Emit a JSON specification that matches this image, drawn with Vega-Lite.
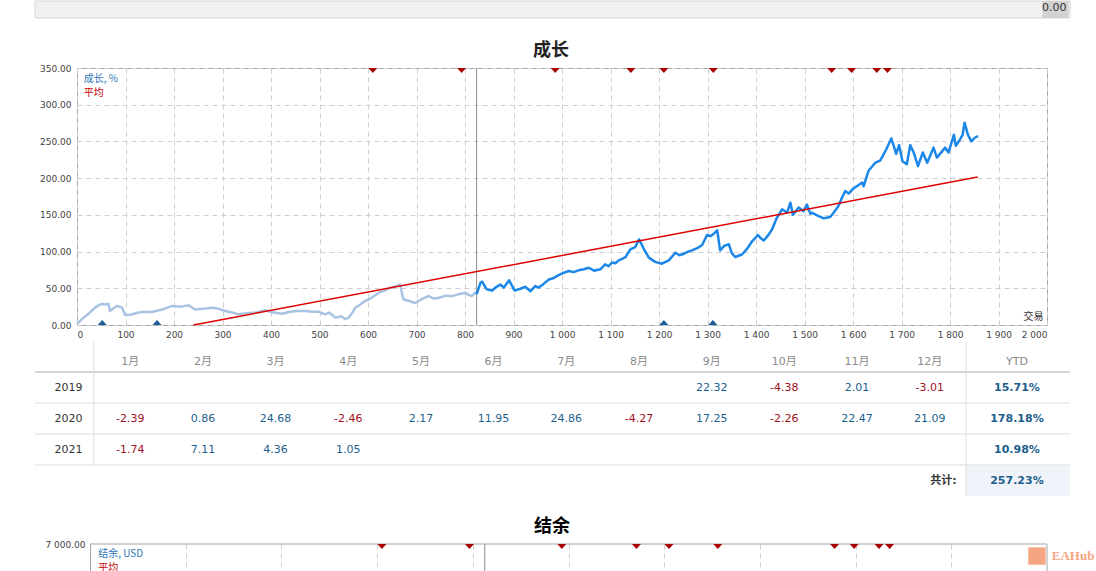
{
  "$schema": "https://vega.github.io/schema/vega-lite/v6.json",
  "padding": {"left": 33, "top": 0, "right": 0, "bottom": 0},
  "bounds": "flush",
  "spacing": 16,
  "datasets": {
    "trades": [
      {"t": 610, "k": "out"}, {"t": 793, "k": "out"}, {"t": 986, "k": "out"}, {"t": 1142, "k": "out"},
      {"t": 1210, "k": "out"}, {"t": 1312, "k": "out"}, {"t": 1556, "k": "out"}, {"t": 1597, "k": "out"},
      {"t": 1649, "k": "out"}, {"t": 1671, "k": "out"},
      {"t": 52, "k": "in"}, {"t": 165, "k": "in"}, {"t": 1210, "k": "in"}, {"t": 1311, "k": "in"}
    ],
    "bodyrows": [{"row": "hdr"}, {"row": "2019"}, {"row": "2020"}, {"row": "2021"}]
  },
  "vconcat": [
    {
      "width": 993,
      "height": 17,
      "data": {"values": [{"cell": "0.00"}]},
      "layer": [
        {
          "mark": {"type": "rect", "fill": "#f0f0f0", "stroke": "#d8d8d8", "strokeWidth": 1},
          "encoding": {
            "x": {"datum": -0.31, "type": "quantitative", "scale": {"domain": [0.268, 13.93], "nice": false, "zero": false}, "axis": null},
            "x2": {"datum": 13.93}
          }
        },
        {
          "mark": {"type": "rect", "fill": "#d2d2d2"},
          "encoding": {"x": {"datum": 13.55, "type": "quantitative"}, "x2": {"datum": 13.91}}
        },
        {
          "mark": {"type": "text", "align": "right", "dx": -2, "dy": -2, "fontSize": 11, "color": "#333333"},
          "encoding": {"x": {"datum": 13.91, "type": "quantitative"}, "text": {"field": "cell"}}
        }
      ]
    },
    {
      "width": 20,
      "height": 18,
      "data": {"values": [{}]},
      "mark": "text",
      "encoding": {"text": {"value": ""}}
    },
    {
      "width": 970,
      "height": 257,
      "view": {"stroke": "#a3a3a3"},
      "title": {"text": "成长", "color": "#222222", "dx": -11, "offset": 4},
      "layer": [
        {
          "data": {"values": [{}]},
          "mark": {"type": "rule", "color": "#8c8c8c", "strokeWidth": 1},
          "encoding": {
            "x": {
              "datum": 824, "type": "quantitative",
              "scale": {"domain": [0, 2000], "nice": false, "zero": false},
              "axis": {
                "values": [0, 100, 200, 300, 400, 500, 600, 700, 800, 900, 1000, 1100, 1200, 1300, 1400, 1500, 1600, 1700, 1800, 1900, 2000],
                "format": ",.0f", "grid": true, "labelPadding": 5, "labelOverlap": false,
                "title": "交易", "titleX": 966, "titleY": -4, "titleAlign": "right", "titleBaseline": "bottom",
                "titleFont": "Noto Sans CJK SC", "titleFontSize": 10, "titleFontWeight": "normal", "titleColor": "#333333"
              }
            }
          }
        },
        {
          "data": {
            "values": [
              {"t": 0, "v": 1, "p": "hist"}, {"t": 10, "v": 8, "p": "hist"}, {"t": 25, "v": 16, "p": "hist"},
              {"t": 37, "v": 23.6, "p": "hist"}, {"t": 45, "v": 27, "p": "hist"}, {"t": 51, "v": 28.6, "p": "hist"},
              {"t": 58, "v": 28, "p": "hist"}, {"t": 65, "v": 28.6, "p": "hist"}, {"t": 68, "v": 19, "p": "hist"},
              {"t": 79, "v": 24.5, "p": "hist"}, {"t": 82, "v": 26, "p": "hist"}, {"t": 93, "v": 23.6, "p": "hist"},
              {"t": 99, "v": 13.6, "p": "hist"}, {"t": 110, "v": 14, "p": "hist"}, {"t": 127, "v": 17, "p": "hist"},
              {"t": 140, "v": 18, "p": "hist"}, {"t": 155, "v": 17.7, "p": "hist"}, {"t": 175, "v": 21, "p": "hist"},
              {"t": 196, "v": 26, "p": "hist"}, {"t": 215, "v": 25, "p": "hist"}, {"t": 230, "v": 27, "p": "hist"},
              {"t": 244, "v": 21, "p": "hist"}, {"t": 260, "v": 22, "p": "hist"}, {"t": 278, "v": 23.6, "p": "hist"},
              {"t": 292, "v": 22, "p": "hist"}, {"t": 306, "v": 19, "p": "hist"}, {"t": 320, "v": 17, "p": "hist"},
              {"t": 333, "v": 14.5, "p": "hist"}, {"t": 350, "v": 16, "p": "hist"}, {"t": 370, "v": 17, "p": "hist"},
              {"t": 388, "v": 20, "p": "hist"}, {"t": 405, "v": 17, "p": "hist"}, {"t": 423, "v": 15.4, "p": "hist"},
              {"t": 440, "v": 18, "p": "hist"}, {"t": 455, "v": 19, "p": "hist"}, {"t": 471, "v": 19, "p": "hist"},
              {"t": 485, "v": 18, "p": "hist"}, {"t": 498, "v": 18, "p": "hist"}, {"t": 512, "v": 14.5, "p": "hist"},
              {"t": 520, "v": 17, "p": "hist"}, {"t": 533, "v": 10, "p": "hist"}, {"t": 545, "v": 12, "p": "hist"},
              {"t": 553, "v": 8, "p": "hist"}, {"t": 560, "v": 10, "p": "hist"}, {"t": 567, "v": 16, "p": "hist"},
              {"t": 574, "v": 23.6, "p": "hist"}, {"t": 584, "v": 28, "p": "hist"}, {"t": 594, "v": 32.7, "p": "hist"},
              {"t": 605, "v": 36, "p": "hist"}, {"t": 622, "v": 44, "p": "hist"}, {"t": 635, "v": 47, "p": "hist"},
              {"t": 643, "v": 50, "p": "hist"}, {"t": 655, "v": 52, "p": "hist"}, {"t": 666, "v": 55, "p": "hist"},
              {"t": 673, "v": 35, "p": "hist"}, {"t": 683, "v": 33, "p": "hist"}, {"t": 697, "v": 30, "p": "hist"},
              {"t": 710, "v": 35, "p": "hist"}, {"t": 725, "v": 39.5, "p": "hist"}, {"t": 735, "v": 36, "p": "hist"},
              {"t": 746, "v": 37, "p": "hist"}, {"t": 760, "v": 40, "p": "hist"}, {"t": 772, "v": 39, "p": "hist"},
              {"t": 787, "v": 42, "p": "hist"}, {"t": 800, "v": 44, "p": "hist"}, {"t": 808, "v": 41, "p": "hist"},
              {"t": 814, "v": 39.5, "p": "hist"}, {"t": 821, "v": 44, "p": "hist"}, {"t": 824, "v": 42, "p": "hist"},
              {"t": 824, "v": 42, "p": "live"}, {"t": 832, "v": 57.6, "p": "live"}, {"t": 835, "v": 59, "p": "live"},
              {"t": 845, "v": 48.6, "p": "live"}, {"t": 856, "v": 47, "p": "live"}, {"t": 865, "v": 52, "p": "live"},
              {"t": 873, "v": 55, "p": "live"}, {"t": 880, "v": 51, "p": "live"}, {"t": 891, "v": 61, "p": "live"},
              {"t": 902, "v": 47, "p": "live"}, {"t": 913, "v": 49, "p": "live"}, {"t": 924, "v": 52, "p": "live"},
              {"t": 935, "v": 46, "p": "live"}, {"t": 945, "v": 53, "p": "live"}, {"t": 952, "v": 51, "p": "live"},
              {"t": 962, "v": 56, "p": "live"}, {"t": 973, "v": 62, "p": "live"}, {"t": 983, "v": 64, "p": "live"},
              {"t": 993, "v": 68, "p": "live"}, {"t": 1003, "v": 71, "p": "live"}, {"t": 1014, "v": 73.5, "p": "live"},
              {"t": 1024, "v": 72, "p": "live"}, {"t": 1034, "v": 74.5, "p": "live"}, {"t": 1045, "v": 76, "p": "live"},
              {"t": 1055, "v": 78, "p": "live"}, {"t": 1066, "v": 74, "p": "live"}, {"t": 1079, "v": 75.8, "p": "live"},
              {"t": 1089, "v": 82.6, "p": "live"}, {"t": 1096, "v": 80, "p": "live"}, {"t": 1103, "v": 85, "p": "live"},
              {"t": 1110, "v": 84, "p": "live"}, {"t": 1117, "v": 88, "p": "live"}, {"t": 1124, "v": 90, "p": "live"},
              {"t": 1131, "v": 92.6, "p": "live"}, {"t": 1141, "v": 103, "p": "live"}, {"t": 1151, "v": 106, "p": "live"},
              {"t": 1159, "v": 116.7, "p": "live"}, {"t": 1168, "v": 104.5, "p": "live"}, {"t": 1179, "v": 91.7, "p": "live"},
              {"t": 1192, "v": 86, "p": "live"}, {"t": 1206, "v": 83.5, "p": "live"}, {"t": 1220, "v": 88, "p": "live"},
              {"t": 1234, "v": 98.5, "p": "live"}, {"t": 1242, "v": 95, "p": "live"}, {"t": 1251, "v": 97, "p": "live"},
              {"t": 1260, "v": 100, "p": "live"}, {"t": 1268, "v": 101.7, "p": "live"}, {"t": 1280, "v": 105, "p": "live"},
              {"t": 1289, "v": 109, "p": "live"}, {"t": 1299, "v": 122.6, "p": "live"}, {"t": 1306, "v": 121, "p": "live"},
              {"t": 1313, "v": 124.4, "p": "live"}, {"t": 1320, "v": 129, "p": "live"}, {"t": 1326, "v": 101.7, "p": "live"},
              {"t": 1335, "v": 108, "p": "live"}, {"t": 1344, "v": 110, "p": "live"}, {"t": 1350, "v": 98, "p": "live"},
              {"t": 1357, "v": 92.6, "p": "live"}, {"t": 1371, "v": 96, "p": "live"}, {"t": 1382, "v": 104, "p": "live"},
              {"t": 1392, "v": 114, "p": "live"}, {"t": 1404, "v": 122.6, "p": "live"}, {"t": 1410, "v": 118, "p": "live"},
              {"t": 1416, "v": 115, "p": "live"}, {"t": 1425, "v": 122, "p": "live"}, {"t": 1433, "v": 130, "p": "live"},
              {"t": 1443, "v": 146, "p": "live"}, {"t": 1454, "v": 157.6, "p": "live"}, {"t": 1464, "v": 153, "p": "live"},
              {"t": 1471, "v": 166.6, "p": "live"}, {"t": 1476, "v": 150, "p": "live"}, {"t": 1488, "v": 160, "p": "live"},
              {"t": 1498, "v": 155, "p": "live"}, {"t": 1505, "v": 164, "p": "live"}, {"t": 1512, "v": 151.6, "p": "live"},
              {"t": 1515, "v": 153, "p": "live"}, {"t": 1529, "v": 148.4, "p": "live"}, {"t": 1540, "v": 145.3, "p": "live"},
              {"t": 1553, "v": 147, "p": "live"}, {"t": 1560, "v": 153, "p": "live"}, {"t": 1570, "v": 162, "p": "live"},
              {"t": 1577, "v": 173, "p": "live"}, {"t": 1584, "v": 182.5, "p": "live"}, {"t": 1591, "v": 179, "p": "live"},
              {"t": 1601, "v": 186, "p": "live"}, {"t": 1610, "v": 190, "p": "live"}, {"t": 1619, "v": 194, "p": "live"},
              {"t": 1622, "v": 189, "p": "live"}, {"t": 1632, "v": 210, "p": "live"}, {"t": 1646, "v": 221, "p": "live"},
              {"t": 1656, "v": 224, "p": "live"}, {"t": 1667, "v": 237, "p": "live"}, {"t": 1679, "v": 254, "p": "live"},
              {"t": 1684, "v": 244, "p": "live"}, {"t": 1689, "v": 233, "p": "live"}, {"t": 1695, "v": 245, "p": "live"},
              {"t": 1702, "v": 223, "p": "live"}, {"t": 1711, "v": 219, "p": "live"}, {"t": 1718, "v": 245, "p": "live"},
              {"t": 1725, "v": 235, "p": "live"}, {"t": 1734, "v": 216.5, "p": "live"}, {"t": 1744, "v": 235, "p": "live"},
              {"t": 1753, "v": 221, "p": "live"}, {"t": 1766, "v": 241.5, "p": "live"}, {"t": 1773, "v": 228, "p": "live"},
              {"t": 1790, "v": 241.5, "p": "live"}, {"t": 1797, "v": 235, "p": "live"}, {"t": 1808, "v": 259, "p": "live"},
              {"t": 1812, "v": 244, "p": "live"}, {"t": 1821, "v": 253, "p": "live"}, {"t": 1826, "v": 259, "p": "live"},
              {"t": 1830, "v": 275.5, "p": "live"}, {"t": 1837, "v": 259, "p": "live"}, {"t": 1844, "v": 250, "p": "live"},
              {"t": 1851, "v": 255, "p": "live"}, {"t": 1858, "v": 257.4, "p": "live"}
            ]
          },
          "mark": {"type": "line", "strokeWidth": 2.5, "strokeJoin": "round"},
          "encoding": {
            "x": {"field": "t", "type": "quantitative"},
            "y": {
              "field": "v", "type": "quantitative",
              "scale": {"domain": [0, 350], "nice": false, "zero": false},
              "axis": {"values": [0, 50, 100, 150, 200, 250, 300, 350], "format": ".2f", "grid": true, "title": null, "labelPadding": 6, "labelOverlap": false}
            },
            "color": {"field": "p", "type": "nominal", "scale": {"domain": ["hist", "live"], "range": ["#a9c4e2", "#1b87e8"]}, "legend": null}
          }
        },
        {
          "data": {"values": [{"t": 240, "v": 0}, {"t": 1857, "v": 201.5}]},
          "mark": {"type": "line", "color": "#e00000", "strokeWidth": 1.5},
          "encoding": {
            "x": {"field": "t", "type": "quantitative"},
            "y": {"field": "v", "type": "quantitative", "axis": {"values": [0, 50, 100, 150, 200, 250, 300, 350], "format": ".2f", "grid": true, "title": null, "labelPadding": 6, "labelOverlap": false}}
          }
        },
        {
          "data": {"name": "trades"},
          "transform": [{"filter": "datum.k == 'out'"}],
          "mark": {"type": "point", "shape": "M-1,0L1,0L0,1.1Z", "filled": true, "size": 81, "color": "#a80000", "opacity": 1},
          "encoding": {
            "x": {"field": "t", "type": "quantitative"},
            "y": {"datum": 350, "type": "quantitative", "axis": {"values": [0, 50, 100, 150, 200, 250, 300, 350], "format": ".2f", "grid": true, "title": null, "labelPadding": 6, "labelOverlap": false}}
          }
        },
        {
          "data": {"name": "trades"},
          "transform": [{"filter": "datum.k == 'in'"}],
          "mark": {"type": "point", "shape": "M-1,0L1,0L0,-1.1Z", "filled": true, "size": 81, "color": "#1a5f99", "opacity": 1},
          "encoding": {
            "x": {"field": "t", "type": "quantitative"},
            "y": {"datum": 0, "type": "quantitative", "axis": {"values": [0, 50, 100, 150, 200, 250, 300, 350], "format": ".2f", "grid": true, "title": null, "labelPadding": 6, "labelOverlap": false}}
          }
        },
        {
          "data": {"values": [{}]},
          "mark": {"type": "text", "text": "成长, %", "align": "left", "fontSize": 10, "font": "Noto Sans CJK SC", "color": "#2e75b6"},
          "encoding": {
            "x": {"datum": 14, "type": "quantitative"},
            "y": {"datum": 335, "type": "quantitative", "axis": {"values": [0, 50, 100, 150, 200, 250, 300, 350], "format": ".2f", "grid": true, "title": null, "labelPadding": 6, "labelOverlap": false}}
          }
        },
        {
          "data": {"values": [{}]},
          "mark": {"type": "text", "text": "平均", "align": "left", "fontSize": 10, "font": "Noto Sans CJK SC", "color": "#c00000"},
          "encoding": {
            "x": {"datum": 14, "type": "quantitative"},
            "y": {"datum": 316, "type": "quantitative", "axis": {"values": [0, 50, 100, 150, 200, 250, 300, 350], "format": ".2f", "grid": true, "title": null, "labelPadding": 6, "labelOverlap": false}}
          }
        }
      ]
    },
    {
      "width": 993,
      "height": 155,
      "layer": [
        {
          "data": {"values": [{"row": "total"}]},
          "mark": {"type": "rect", "fill": "#f0f4fa"},
          "encoding": {
            "x": {"datum": 12.5, "type": "quantitative", "scale": {"domain": [0.268, 13.93], "nice": false, "zero": false}, "axis": null},
            "x2": {"datum": 13.93},
            "y": {"field": "row", "type": "nominal", "scale": {"domain": ["hdr", "2019", "2020", "2021", "total"], "paddingInner": 0, "paddingOuter": 0}, "axis": null}
          }
        },
        {
          "data": {"values": [{"row": "hdr"}]},
          "mark": {"type": "rule", "color": "#d4d4d4", "strokeWidth": 2},
          "encoding": {"x": {"datum": -0.31, "type": "quantitative"}, "x2": {"datum": 13.93}, "y": {"field": "row", "type": "nominal", "bandPosition": 1}}
        },
        {
          "data": {"values": [{"row": "2019"}, {"row": "2020"}, {"row": "2021"}]},
          "mark": {"type": "rule", "color": "#dddddd", "strokeWidth": 1},
          "encoding": {"x": {"datum": -0.31, "type": "quantitative"}, "x2": {"datum": 13.93}, "y": {"field": "row", "type": "nominal", "bandPosition": 1}}
        },
        {
          "data": {"name": "bodyrows"},
          "mark": {"type": "tick", "color": "#dddddd", "thickness": 1, "size": 31, "opacity": 1},
          "encoding": {"x": {"datum": 0.5, "type": "quantitative"}, "y": {"field": "row", "type": "nominal"}}
        },
        {
          "data": {"values": [{"row": "hdr"}, {"row": "2019"}, {"row": "2020"}, {"row": "2021"}, {"row": "total"}]},
          "mark": {"type": "tick", "color": "#dddddd", "thickness": 1, "size": 31, "opacity": 1},
          "encoding": {"x": {"datum": 12.5, "type": "quantitative"}, "y": {"field": "row", "type": "nominal"}}
        },
        {
          "data": {
            "values": [
              {"row": "hdr", "m": 1, "lbl": "1月"}, {"row": "hdr", "m": 2, "lbl": "2月"}, {"row": "hdr", "m": 3, "lbl": "3月"},
              {"row": "hdr", "m": 4, "lbl": "4月"}, {"row": "hdr", "m": 5, "lbl": "5月"}, {"row": "hdr", "m": 6, "lbl": "6月"},
              {"row": "hdr", "m": 7, "lbl": "7月"}, {"row": "hdr", "m": 8, "lbl": "8月"}, {"row": "hdr", "m": 9, "lbl": "9月"},
              {"row": "hdr", "m": 10, "lbl": "10月"}, {"row": "hdr", "m": 11, "lbl": "11月"}, {"row": "hdr", "m": 12, "lbl": "12月"}
            ]
          },
          "mark": {"type": "text", "fontSize": 11, "color": "#8a8a8a", "dy": 5},
          "encoding": {"x": {"field": "m", "type": "quantitative"}, "y": {"field": "row", "type": "nominal"}, "text": {"field": "lbl"}}
        },
        {
          "data": {"values": [{"row": "hdr"}]},
          "mark": {"type": "text", "text": "YTD", "fontSize": 11, "color": "#8a8a8a", "dy": 5},
          "encoding": {"x": {"datum": 13.2, "type": "quantitative"}, "y": {"field": "row", "type": "nominal"}}
        },
        {
          "data": {"values": [{"row": "2019"}, {"row": "2020"}, {"row": "2021"}]},
          "mark": {"type": "text", "fontSize": 11, "color": "#333333"},
          "encoding": {"x": {"datum": 0.15, "type": "quantitative"}, "y": {"field": "row", "type": "nominal"}, "text": {"field": "row"}}
        },
        {
          "data": {
            "values": [
              {"row": "2019", "m": 9, "v": 22.32}, {"row": "2019", "m": 10, "v": -4.38}, {"row": "2019", "m": 11, "v": 2.01}, {"row": "2019", "m": 12, "v": -3.01},
              {"row": "2020", "m": 1, "v": -2.39}, {"row": "2020", "m": 2, "v": 0.86}, {"row": "2020", "m": 3, "v": 24.68}, {"row": "2020", "m": 4, "v": -2.46},
              {"row": "2020", "m": 5, "v": 2.17}, {"row": "2020", "m": 6, "v": 11.95}, {"row": "2020", "m": 7, "v": 24.86}, {"row": "2020", "m": 8, "v": -4.27},
              {"row": "2020", "m": 9, "v": 17.25}, {"row": "2020", "m": 10, "v": -2.26}, {"row": "2020", "m": 11, "v": 22.47}, {"row": "2020", "m": 12, "v": 21.09},
              {"row": "2021", "m": 1, "v": -1.74}, {"row": "2021", "m": 2, "v": 7.11}, {"row": "2021", "m": 3, "v": 4.36}, {"row": "2021", "m": 4, "v": 1.05}
            ]
          },
          "mark": {"type": "text", "fontSize": 11},
          "encoding": {
            "x": {"field": "m", "type": "quantitative"},
            "y": {"field": "row", "type": "nominal"},
            "text": {"field": "v", "type": "quantitative", "format": ".2f"},
            "color": {"condition": {"test": "datum.v < 0", "value": "#a3121c"}, "value": "#1d5f8c"}
          }
        },
        {
          "data": {"values": [{"row": "2019", "ytd": "15.71%"}, {"row": "2020", "ytd": "178.18%"}, {"row": "2021", "ytd": "10.98%"}, {"row": "total", "ytd": "257.23%"}]},
          "mark": {"type": "text", "fontSize": 11, "fontWeight": 600, "color": "#1d5f8c"},
          "encoding": {"x": {"datum": 13.2, "type": "quantitative"}, "y": {"field": "row", "type": "nominal"}, "text": {"field": "ytd"}}
        },
        {
          "data": {"values": [{"row": "total"}]},
          "mark": {"type": "text", "text": "共计:", "align": "right", "fontSize": 11, "fontWeight": 600, "color": "#333333"},
          "encoding": {"x": {"datum": 12.37, "type": "quantitative"}, "y": {"field": "row", "type": "nominal"}}
        }
      ]
    },
    {
      "width": 20,
      "height": 16,
      "data": {"values": [{}]},
      "mark": "text",
      "encoding": {"text": {"value": ""}}
    },
    {
      "width": 970,
      "height": 28,
      "title": {"text": "结余", "color": "#000000", "dx": -10, "offset": 4},
      "layer": [
        {
          "data": {"values": [{}]},
          "mark": {"type": "rule", "color": "#8c8c8c", "strokeWidth": 1},
          "encoding": {
            "x": {
              "datum": 825, "type": "quantitative",
              "scale": {"domain": [-27.2, 2000], "nice": false, "zero": false},
              "axis": {"values": [200, 400, 600, 800, 1000, 1200, 1400, 1600, 1800], "grid": true, "labels": false, "title": null}
            }
          }
        },
        {
          "data": {"values": [{}]},
          "mark": {"type": "rule", "color": "#a3a3a3", "strokeWidth": 1},
          "encoding": {
            "x": {"datum": 0, "type": "quantitative"},
            "x2": {"datum": 2000},
            "y": {
              "datum": 7000, "type": "quantitative",
              "scale": {"domain": [6300, 7000], "nice": false, "zero": false},
              "axis": {"values": [7000], "format": ",.2f", "offset": -13, "domain": true, "domainColor": "#a3a3a3", "grid": false, "title": null, "labelPadding": 5}
            }
          }
        },
        {
          "data": {"values": [{}]},
          "mark": {"type": "rule", "color": "#a3a3a3", "strokeWidth": 1},
          "encoding": {"x": {"datum": 2000, "type": "quantitative"}}
        },
        {
          "data": {"name": "trades"},
          "transform": [{"filter": "datum.k == 'out'"}],
          "mark": {"type": "point", "shape": "M-1,0L1,0L0,1.1Z", "filled": true, "size": 81, "color": "#a80000", "opacity": 1},
          "encoding": {"x": {"field": "t", "type": "quantitative"}, "y": {"datum": 7000, "type": "quantitative"}}
        },
        {
          "data": {"values": [{}]},
          "mark": {"type": "text", "text": "结余, USD", "align": "left", "fontSize": 10, "font": "Noto Sans CJK SC", "color": "#2e75b6", "clip": true},
          "encoding": {"x": {"datum": 17, "type": "quantitative"}, "y": {"datum": 6740, "type": "quantitative"}}
        },
        {
          "data": {"values": [{}]},
          "mark": {"type": "text", "text": "平均", "align": "left", "fontSize": 10, "font": "Noto Sans CJK SC", "color": "#c00000", "clip": true},
          "encoding": {"x": {"datum": 17, "type": "quantitative"}, "y": {"datum": 6400, "type": "quantitative"}}
        },
        {
          "data": {"values": [{}]},
          "mark": {"type": "point", "shape": "square", "filled": true, "size": 300, "color": "#f6a583", "opacity": 1},
          "encoding": {"x": {"datum": 1979, "type": "quantitative"}, "y": {"datum": 6700, "type": "quantitative"}}
        },
        {
          "data": {"values": [{}]},
          "mark": {"type": "text", "text": "EAHub", "align": "left", "fontSize": 13, "font": "Liberation Serif", "fontWeight": "bold", "color": "#f6a583"},
          "encoding": {"x": {"datum": 2010, "type": "quantitative"}, "y": {"datum": 6700, "type": "quantitative"}}
        }
      ]
    }
  ],
  "config": {
    "view": {"stroke": null},
    "font": "DejaVu Sans",
    "axis": {
      "labelFont": "DejaVu Sans", "labelFontSize": 9, "labelColor": "#444444",
      "ticks": false, "domain": false,
      "gridColor": "#cfcfcf", "gridDash": [5, 4], "gridWidth": 1
    },
    "text": {"font": "DejaVu Sans, Noto Sans CJK SC"},
    "title": {"font": "Noto Sans CJK SC", "fontSize": 18, "fontWeight": "bold", "baseline": "bottom", "offset": 7},
    "locale": {"number": {"decimal": ".", "thousands": " ", "grouping": [3], "currency": ["", ""], "minus": "-"}}
  }
}
